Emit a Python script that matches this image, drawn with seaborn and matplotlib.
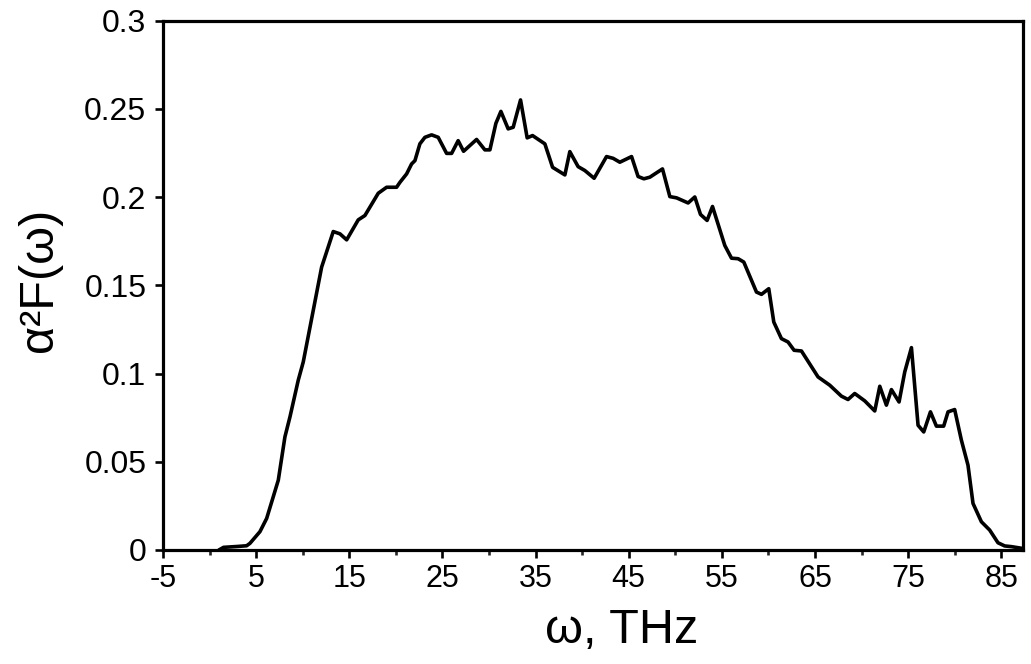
import matplotlib
matplotlib.use("Agg")
import matplotlib.pyplot as plt
import seaborn as sns
import numpy as np
from matplotlib.ticker import FixedLocator, FuncFormatter

# ---- data ----
omega = [1.0, 1.5, 3.0, 3.98, 4.34, 5.41, 6.13, 6.84, 7.38, 8.09, 8.63, 9.52, 10.06,
         12.03, 13.28, 14.0, 14.72, 15.96, 16.68, 18.11, 19.01, 20.08, 20.44, 21.16,
         21.69, 22.05, 22.58, 23.12, 23.84, 24.55, 25.45, 25.99, 26.69, 27.27, 28.67,
         29.56, 30.1, 30.74, 31.28, 32.06, 32.6, 33.39, 34.1, 34.68, 36.0, 36.83,
         38.15, 38.68, 39.57, 40.29, 41.29, 42.62, 43.33, 44.05, 45.31, 46.01, 46.63,
         47.27, 48.63, 49.42, 50.14, 51.38, 52.1, 52.71, 53.42, 54.0, 55.32, 56.04,
         56.75, 57.36, 58.72, 59.26, 60.04, 60.58, 61.4, 62.11, 62.76, 63.55, 65.33,
         66.59, 67.84, 68.55, 69.27, 70.35, 71.42, 71.96, 72.67, 73.21, 74.03, 74.64,
         75.36, 76.07, 76.68, 77.4, 78.04, 78.82, 79.29, 80.0, 80.72, 81.43, 81.97,
         82.87, 83.76, 84.65, 85.37, 86.09, 87.16]
a2f = [0.0, 0.0015, 0.002, 0.0024, 0.0038, 0.0104, 0.0179, 0.0302, 0.0396, 0.0641,
       0.0754, 0.0962, 0.1066, 0.1603, 0.1805, 0.1792, 0.1758, 0.1871, 0.1896, 0.2022,
       0.2056, 0.2056, 0.2084, 0.2132, 0.2188, 0.2207, 0.2302, 0.2339, 0.2353, 0.2339,
       0.2248, 0.2248, 0.2320, 0.2260, 0.2327, 0.2268, 0.2268, 0.2418, 0.2486, 0.2387,
       0.2396, 0.2551, 0.2336, 0.2349, 0.2302, 0.2169, 0.2126, 0.2258, 0.2173, 0.2151,
       0.2107, 0.2230, 0.2220, 0.2198, 0.2230, 0.2117, 0.2104, 0.2113, 0.2160, 0.2003,
       0.1996, 0.1967, 0.2001, 0.1902, 0.1868, 0.1947, 0.1726, 0.1654, 0.1651, 0.1632,
       0.1462, 0.1449, 0.1481, 0.1292, 0.1198, 0.1179, 0.1132, 0.1128, 0.0981, 0.0934,
       0.0872, 0.0853, 0.0887, 0.0845, 0.0788, 0.0928, 0.0821, 0.0909, 0.0839, 0.1009,
       0.1147, 0.0707, 0.0669, 0.0783, 0.0702, 0.0702, 0.0783, 0.0796, 0.0623, 0.0481,
       0.0264, 0.0160, 0.0113, 0.0041, 0.0023, 0.0019, 0.0010]

x_major = [-5, 5, 15, 25, 35, 45, 55, 65, 75, 85]
x_minor = [0, 10, 20, 30, 40, 50, 60, 70, 80]
y_ticks = [0, 0.05, 0.1, 0.15, 0.2, 0.25, 0.3]
x_label = "ω, THz"
y_label = "α²F(ω)"

sns.set_theme(style="white")
plt.rcParams["font.family"] = ["Liberation Sans", "DejaVu Sans"]

fig = plt.figure(figsize=(10.31, 6.64), dpi=100)
ax = fig.add_axes([0.1581, 0.1717, 0.8338, 0.7971])

sns.lineplot(x=omega, y=a2f, ax=ax, color="black", linewidth=2.6, estimator=None, sort=False)

ax.set_xlim(-5, 87.3)
ax.set_ylim(0, 0.3)
ax.xaxis.set_major_locator(FixedLocator(x_major))
ax.xaxis.set_minor_locator(FixedLocator(x_minor))
ax.yaxis.set_major_locator(FixedLocator(y_ticks))
ax.yaxis.set_major_formatter(FuncFormatter(lambda v, p: f"{v:g}"))
ax.xaxis.set_major_formatter(FuncFormatter(lambda v, p: f"{v:g}"))

for s in ax.spines.values():
    s.set_visible(True)
    s.set_color("black")
    s.set_linewidth(2.3)

ax.tick_params(axis="x", which="major", direction="out", length=6, width=1.9,
               labelsize=22, pad=4, colors="black", bottom=True, top=False)
ax.tick_params(axis="x", which="minor", direction="out", length=3.5, width=1.9,
               bottom=True, top=False)
ax.tick_params(axis="y", which="major", direction="out", length=6, width=1.9,
               labelsize=23, pad=6, colors="black", left=True, right=False)

ax.set_xlabel(x_label, fontsize=35, color="black")
ax.set_ylabel(y_label, fontsize=35, color="black")
ax.xaxis.set_label_coords(0.533, -0.11)
ax.yaxis.set_label_coords(-0.117, 0.51)
ax.grid(False)
ax.set_facecolor("white")
fig.patch.set_facecolor("white")

fig.savefig("out.png", dpi=100)
